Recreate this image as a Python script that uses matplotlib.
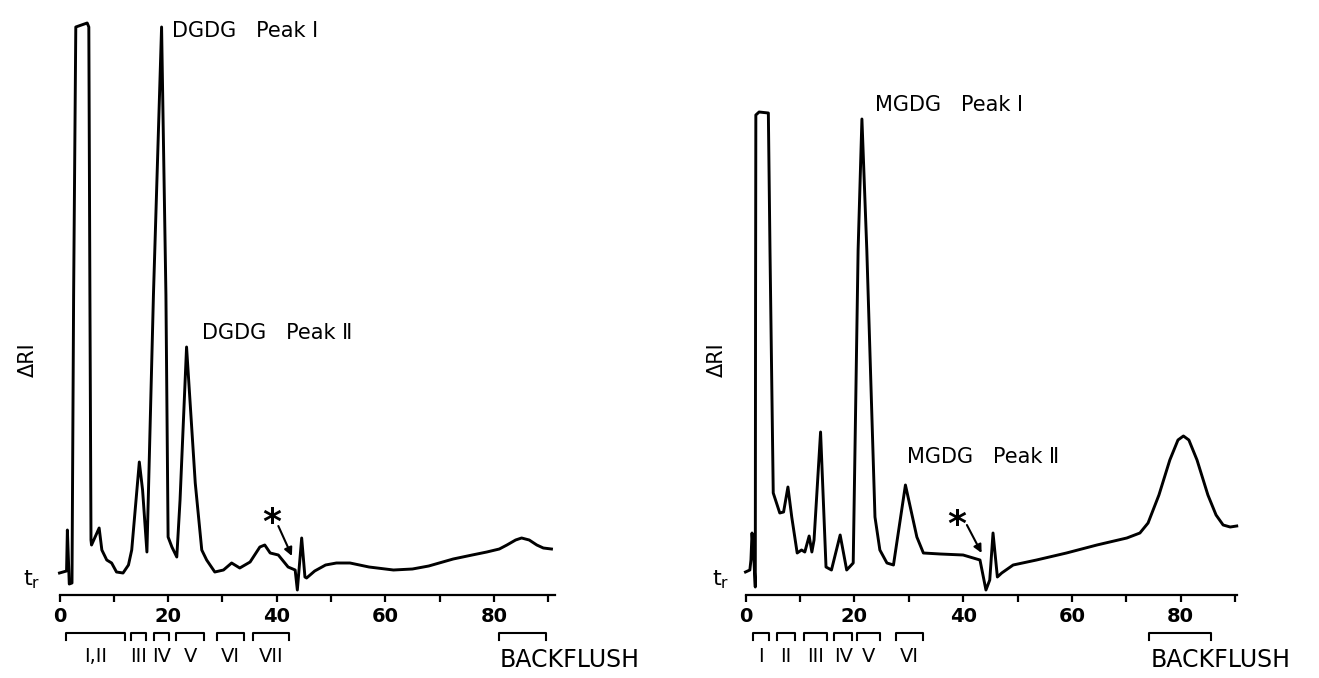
import numpy as np
import matplotlib
matplotlib.use("Agg")
import matplotlib.pyplot as plt
from matplotlib.ticker import MultipleLocator

# DGDG chromatogram (time in min, detector response in arbitrary units)
dgdg_time = [0.0, 1.3, 1.45, 1.8, 2.3, 2.6, 3.0, 5.1, 5.4, 5.6, 5.8, 5.9, 7.3, 7.8,
             8.7, 9.6, 10.5, 11.7, 12.7, 13.3, 14.7, 15.3, 16.1, 17.3, 18.8, 19.6,
             20.0, 20.7, 21.6, 22.2, 23.4, 25.0, 26.2, 27.1, 28.6, 30.2, 31.7, 33.2,
             35.1, 36.9, 37.8, 38.8, 40.3, 42.1, 43.4, 43.8, 44.6, 45.2, 45.5, 47.0,
             49.0, 51.0, 53.5, 57.0, 61.5, 65.0, 68.0, 72.5, 76.0, 78.7, 81.0, 82.4,
             84.0, 85.1, 86.5, 87.9, 89.1, 90.6]
dgdg_resp = [22, 24, 65, 11, 12, 300, 568, 572, 568, 300, 55, 50, 67, 45,
             35, 32, 23, 22, 30, 45, 133, 105, 43, 300, 568, 300,
             58, 48, 38, 95, 248, 112, 45, 35, 23, 25, 32, 27,
             33, 48, 50, 42, 40, 28, 25, 5, 57, 18, 17, 24,
             30, 32, 32, 28, 25, 26, 29, 36, 40, 43, 46, 50,
             55, 57, 55, 50, 47, 46]

# MGDG chromatogram
mgdg_time = [0.0, 0.8, 1.0, 1.2, 1.5, 1.8, 1.85, 1.9, 2.5, 4.2, 4.5, 5.1, 6.3, 7.0,
             7.8, 8.5, 9.5, 10.3, 10.9, 11.7, 12.2, 12.6, 13.8, 14.8, 15.8, 17.4,
             18.6, 19.8, 20.7, 21.4, 22.3, 23.8, 24.7, 26.0, 27.2, 29.4, 31.5, 32.7,
             35.8, 40.0, 43.1, 44.2, 44.9, 45.5, 46.3, 47.1, 49.2, 53.5, 59.0, 64.6,
             70.1, 72.5, 74.0, 76.0, 78.0, 79.5, 80.5, 81.5, 83.0, 85.0, 86.5, 87.8,
             89.1, 90.3]
mgdg_resp = [23, 25, 35, 62, 40, 8, 300, 480, 483, 482, 345, 102, 82, 83,
             108, 78, 42, 45, 43, 59, 43, 55, 163, 28, 25, 60,
             25, 32, 345, 476, 345, 78, 45, 32, 30, 110, 58, 42,
             41, 40, 35, 5, 15, 62, 18, 22, 30, 35, 42, 50,
             57, 62, 72, 100, 135, 155, 159, 155, 135, 100, 80, 70,
             68, 69]

# collected fractions (min)
dgdg_frac_names = ["I,II", "III", "IV", "V", "VI", "VII"]
dgdg_frac_start = [1.2, 13.1, 17.4, 21.5, 29.0, 35.7]
dgdg_frac_end = [12.1, 16.0, 20.2, 26.7, 34.0, 42.2]
dgdg_backflush = (81.0, 89.6)

mgdg_frac_names = ["I", "II", "III", "IV", "V", "VI"]
mgdg_frac_start = [1.3, 5.7, 10.8, 16.3, 20.5, 27.7]
mgdg_frac_end = [4.4, 9.1, 14.9, 19.6, 24.8, 32.7]
mgdg_backflush = (74.2, 85.6)

W, H = 1319, 678
fig = plt.figure(figsize=(W / 100, H / 100), dpi=100)
fig.patch.set_facecolor("white")

LW = 2.1


def panel(rect, xmax, t, r, names, starts, ends, backflush, bf_x,
          peak_labels, star_xy, arrow_from, arrow_to):
    ax = fig.add_axes(rect)
    ax.plot(t, r, color="black", lw=LW, solid_joinstyle="round", clip_on=False)
    ax.set_xlim(0, xmax)
    ax.set_ylim(0, 580)
    for s in ["left", "right", "top"]:
        ax.spines[s].set_visible(False)
    ax.spines["bottom"].set_linewidth(1.6)
    ax.set_yticks([])
    ax.xaxis.set_major_locator(MultipleLocator(20))
    ax.xaxis.set_minor_locator(MultipleLocator(10))
    ax.tick_params(axis="x", which="both", direction="out", length=5, width=1.6,
                   pad=4)
    ax.tick_params(axis="x", which="major", labelsize=14)
    ax.set_xticks([0, 20, 40, 60, 80])
    for lab in ax.get_xticklabels():
        lab.set_fontweight("bold")

    # fraction brackets
    for nm, a, b in zip(names, starts, ends):
        ax.plot([a, a, b, b], [-45, -38, -38, -45], color="black", lw=1.5,
                clip_on=False)
        ax.text((a + b) / 2, -62, nm, ha="center", va="center", fontsize=14)
    a, b = backflush
    ax.plot([a, a, b, b], [-45, -38, -38, -45], color="black", lw=1.5,
            clip_on=False)
    ax.text(bf_x, -65, "BACKFLUSH", ha="left", va="center", fontsize=17)

    for txt, x, y in peak_labels:
        ax.text(x, y, txt, ha="left", va="center", fontsize=15)

    ax.text(star_xy[0], star_xy[1], "*", ha="center", va="center",
            fontsize=26, fontweight="bold")
    ax.annotate("", xy=arrow_to, xytext=arrow_from,
                arrowprops=dict(arrowstyle="-|>", lw=1.5, color="black",
                                mutation_scale=12, shrinkA=0, shrinkB=0))
    return ax


axL = panel([59.5 / W, 83 / H, 91.3 * 5.43 / W, 580 / H], 91.3,
            dgdg_time, dgdg_resp, dgdg_frac_names, dgdg_frac_start,
            dgdg_frac_end, dgdg_backflush, 81.0,
            [("DGDG   Peak \u2160", 20.7, 564), ("DGDG   Peak \u2161", 26.2, 262)],
            (39.0, 72), (40.3, 69), (42.8, 39))

axR = panel([745.5 / W, 83 / H, 90.3 * 5.44 / W, 580 / H], 90.3,
            mgdg_time, mgdg_resp, mgdg_frac_names, mgdg_frac_start,
            mgdg_frac_end, mgdg_backflush, 74.4,
            [("MGDG   Peak \u2160", 23.8, 490), ("MGDG   Peak \u2161", 29.6, 138)],
            (38.8, 70), (40.7, 70), (43.4, 42))

for x in [28, 717]:
    fig.text(x / W, 1 - 360 / H, "\u0394RI", rotation=90, ha="center",
             va="center", fontsize=15)
    fig.text((x + 4) / W, 1 - 580 / H, r"$\mathregular{t_r}$", ha="center",
             va="center", fontsize=16)

fig.savefig("out.png", dpi=100)
